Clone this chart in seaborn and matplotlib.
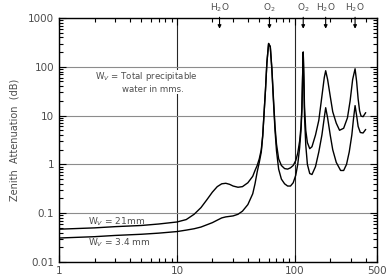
import numpy as np
import pandas as pd
import seaborn as sns
import matplotlib.pyplot as plt
from matplotlib.ticker import LogLocator, NullFormatter, FixedLocator, FixedFormatter

# zenith attenuation, Wv = 21 mm
freq_21 = [1, 2, 3, 5, 7, 10, 12, 14, 16, 18, 20, 22, 24, 26, 28, 30, 33, 36, 40, 44, 46, 48,
           50, 52, 53.5, 55, 56.5, 58, 60, 62, 64, 66, 68, 70, 73, 77, 82, 87, 92, 97, 102, 106,
           110, 113, 115, 116.5, 118, 119.5, 121, 124, 128, 134, 140, 150, 160, 170, 178, 183,
           190, 200, 210, 225, 240, 260, 280, 295, 310, 325, 335, 345, 355, 365, 380, 400]
att_21 = [0.047, 0.050, 0.053, 0.056, 0.060, 0.066, 0.074, 0.095, 0.13, 0.19, 0.27, 0.35, 0.40,
          0.41, 0.39, 0.36, 0.34, 0.35, 0.42, 0.57, 0.75, 0.95, 1.3, 2.0, 4.0, 12, 35, 120, 300,
          260, 90, 22, 6, 2.6, 1.3, 0.95, 0.82, 0.8, 0.85, 0.95, 1.2, 1.7, 3, 6, 15, 60, 200, 60,
          15, 5, 2.8, 2.1, 2.3, 4, 8, 25, 60, 83, 55, 25, 12, 7, 5, 5.5, 9, 20, 55, 91, 50, 22,
          12.5, 9.8, 9.5, 11.5]

# zenith attenuation, Wv = 3.4 mm
freq_34 = [1, 2, 3, 5, 7, 10, 12, 14, 16, 18, 20, 22, 24, 26, 28, 30, 33, 36, 40, 44, 46, 48,
           50, 52, 53.5, 55, 56.5, 58, 60, 62, 64, 66, 68, 70, 73, 77, 82, 87, 92, 97, 102, 106,
           110, 113, 115, 116.5, 118, 119.5, 121, 124, 128, 134, 140, 150, 160, 170, 178, 183,
           190, 200, 210, 225, 245, 260, 275, 290, 305, 315, 325, 335, 345, 360, 380, 400]
att_34 = [0.031, 0.033, 0.035, 0.037, 0.039, 0.042, 0.045, 0.048, 0.052, 0.058, 0.064, 0.072,
          0.080, 0.084, 0.086, 0.088, 0.095, 0.11, 0.15, 0.25, 0.4, 0.7, 1.1, 1.8, 3.8, 12, 35,
          120, 300, 255, 85, 19, 5, 1.9, 0.8, 0.5, 0.4, 0.36, 0.36, 0.42, 0.6, 1.0, 2.2, 5, 13,
          55, 200, 50, 10, 2.5, 1.0, 0.65, 0.62, 0.9, 1.8, 4, 9, 14.5, 9, 4, 2.0, 1.1, 0.75,
          0.75, 1.0, 1.8, 4, 8.5, 16, 10, 6, 4.5, 4.4, 5.2]

# absorption lines marked at the top
line_freqs = [23, 61, 118, 183, 325]
line_names = ['H$_2$O', 'O$_2$', 'O$_2$', 'H$_2$O', 'H$_2$O']

xticks = [1, 10, 100, 500]
xticklabels = ['1', '10', '100', '500']
yticks = [0.01, 0.1, 1, 10, 100, 1000]
yticklabels = ['0.01', '0.1', '1', '10', '100', '1000']

df = pd.concat([
    pd.DataFrame({'freq': freq_21, 'att': att_21, 'wv': '21mm'}),
    pd.DataFrame({'freq': freq_34, 'att': att_34, 'wv': '3.4mm'}),
])

sns.set_style('ticks')
plt.rcParams['font.family'] = ['DejaVu Sans']
txt = '0.3'

fig = plt.figure(figsize=(3.86, 2.78), dpi=100)
ax = fig.add_axes([0.153, 0.0576, 0.824, 0.8777])

sns.lineplot(data=df, x='freq', y='att', hue='wv', palette=['k', 'k'], estimator=None,
             sort=False, lw=1.0, legend=False, ax=ax)

ax.set_xscale('log')
ax.set_yscale('log')
ax.set_xlim(1, 500)
ax.set_ylim(0.01, 1000)

ax.xaxis.set_major_locator(FixedLocator(xticks))
ax.xaxis.set_major_formatter(FixedFormatter(xticklabels))
ax.xaxis.set_minor_locator(LogLocator(base=10, subs=range(2, 10), numticks=20))
ax.xaxis.set_minor_formatter(NullFormatter())
ax.yaxis.set_major_locator(FixedLocator(yticks))
ax.yaxis.set_major_formatter(FixedFormatter(yticklabels))
ax.yaxis.set_minor_locator(LogLocator(base=10, subs=range(2, 10), numticks=20))
ax.yaxis.set_minor_formatter(NullFormatter())

ax.tick_params(which='both', direction='in', top=True, right=True, colors='k',
               labelcolor=txt, labelsize=7.5, width=0.8)
ax.tick_params(which='major', length=5)
ax.tick_params(which='minor', length=3)
ax.tick_params(axis='x', pad=3)

ax.grid(True, which='major', axis='y', color='0.55', lw=0.8)
ax.grid(True, which='major', axis='x', color='0.15', lw=0.8)
for s in ax.spines.values():
    s.set_linewidth(1.0)
    s.set_color('k')

ax.set_xlabel('')
ax.set_ylabel('Zenith  Attenuation  (dB)', fontsize=7, color=txt, labelpad=6)

for f, name in zip(line_freqs, line_names):
    ax.annotate(name, xy=(f, 0.956), xycoords=('data', 'axes fraction'),
                xytext=(f, 1.042), textcoords=('data', 'axes fraction'),
                ha='center', va='center', fontsize=6.5, color=txt,
                arrowprops=dict(arrowstyle='-|>', color='k', lw=0.8,
                                mutation_scale=5, shrinkA=0, shrinkB=0))

box = dict(facecolor='white', edgecolor='none', pad=0.6)
ax.text(2.0, 62, 'W$_V$ = Total precipitable', fontsize=6.2, color=txt, va='center', bbox=box)
ax.text(3.4, 35, 'water in mms.', fontsize=6.2, color=txt, va='center', bbox=box)
ax.text(1.75, 0.068, 'W$_V$ = 21mm', fontsize=6.5, color=txt, va='center')
ax.text(1.75, 0.0245, 'W$_V$ = 3.4 mm', fontsize=6.5, color=txt, va='center')

fig.savefig('out.png', dpi=100)
